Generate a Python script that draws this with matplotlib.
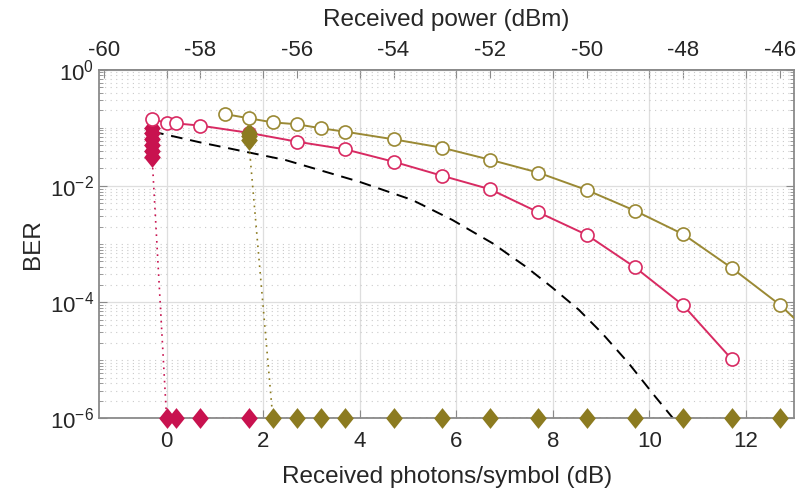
import matplotlib
matplotlib.use("Agg")
import matplotlib.pyplot as plt
from matplotlib.path import Path
import numpy as np

plt.rcParams['font.family'] = ['Liberation Sans', 'DejaVu Sans']
plt.rcParams['mathtext.fontset'] = 'custom'
plt.rcParams['mathtext.rm'] = 'Liberation Sans'
plt.rcParams['axes.unicode_minus'] = False

# ---- data (x in dBm, received power) ----
OFFSET = 58.7  # dB photons/symbol = dBm + OFFSET

red_circ_x = [-59, -58.7, -58.5, -58, -57, -56, -55, -54, -53, -52, -51, -50, -49, -48, -47]
red_circ_y = [0.140, 0.122, 0.119, 0.109, 0.082, 0.0577, 0.0426, 0.0261, 0.0150, 0.00875,
              0.00351, 0.00144, 3.97e-4, 8.8e-5, 1.05e-5]

olive_circ_x = [-57.5, -57, -56.5, -56, -55.5, -55, -54, -53, -52, -51, -50, -49, -48, -47, -46, -45]
olive_circ_y = [0.173, 0.146, 0.124, 0.115, 0.098, 0.0857, 0.0634, 0.0455, 0.0282, 0.0169,
                0.00850, 0.00374, 0.00147, 3.89e-4, 9.0e-5, 1.5e-5]

red_dia_x = [-59, -59, -59, -59, -59, -59, -58.7, -58.5, -58, -57]
red_dia_y = [0.100, 0.081, 0.064, 0.051, 0.040, 0.031, 1e-6, 1e-6, 1e-6, 1e-6]

olive_dia_x = [-57, -57, -57, -56.5, -56, -55.5, -55, -54, -53, -52, -51, -50, -49, -48, -47, -46]
olive_dia_y = [0.083, 0.071, 0.061] + [1e-6] * 13

theory_x = [-59.0, -58.0, -56.24, -54.71, -53.61, -52.78, -51.95, -51.26, -50.72, -50.16,
            -49.68, -49.13, -48.58, -48.24, -48.0]
theory_y = [0.0863, 0.056, 0.0279, 0.0118, 0.00572, 0.00259, 0.00103, 4.07e-4, 1.80e-4,
            7.34e-5, 2.91e-5, 8.85e-6, 2.36e-6, 1.07e-6, 6.1e-7]

bottom_ticks = [0, 2, 4, 6, 8, 10, 12]
top_ticks = [-60, -58, -56, -54, -52, -50, -48, -46]
y_major = [1e0, 1e-2, 1e-4, 1e-6]
y_labels = ['$\\mathregular{10^{0}}$', '$\\mathregular{10^{-2}}$',
            '$\\mathregular{10^{-4}}$', '$\\mathregular{10^{-6}}$']

RED = '#C8124F'
RED_L = '#D82A62'
OLV = '#8C7B20'
OLV_L = '#9A8934'
SPINE = '#8a8a8a'
TXT = '#262626'

def to_db(v):
    return [a + OFFSET for a in v]

fig = plt.figure(figsize=(8, 5), dpi=100)
ax = fig.add_axes([0.12375, 0.1634, 0.86913, 0.6972])
ax.set_yscale('log')
ax.set_xlim(-1.4, 13)
ax.set_ylim(1e-6, 1)

dia = Path([(0, 1), (0.8, 0), (0, -1), (-0.8, 0), (0, 1)],
           [Path.MOVETO, Path.LINETO, Path.LINETO, Path.LINETO, Path.CLOSEPOLY])

ax.plot(to_db(theory_x), theory_y, color='black', lw=1.4, ls=(0, (6, 4)), zorder=2)

# dotted connecting lines (below the spines), then diamond markers on top
ax.plot(to_db(red_dia_x), red_dia_y, color=RED, lw=1.2, ls=(0, (1, 3)), zorder=2.1)
ax.plot(to_db(red_dia_x), red_dia_y, ls='none', marker=dia, ms=15, mfc=RED, mec=RED,
        mew=0, clip_on=False, zorder=3)
ax.plot(to_db(red_circ_x), red_circ_y, color=RED_L, lw=1.4, marker='o', ms=9.4,
        mfc='white', mec=RED_L, mew=1.2, zorder=4)
ax.plot(to_db(olive_dia_x), olive_dia_y, color=OLV, lw=1.2, ls=(0, (1, 3)), zorder=2.1)
ax.plot(to_db(olive_dia_x), olive_dia_y, ls='none', marker=dia, ms=15, mfc=OLV, mec=OLV,
        mew=0, clip_on=False, zorder=5)
ax.plot(to_db(olive_circ_x), olive_circ_y, color=OLV_L, lw=1.4, marker='o', ms=9.4,
        mfc='white', mec=OLV_L, mew=1.2, zorder=6)

# ticks / grid
ax.set_xticks(bottom_ticks)
ax.set_yticks(y_major)
ax.set_yticklabels(y_labels)
minor = []
for e in range(-6, 0):
    for m in range(1, 10):
        v = m * 10.0 ** e
        if v not in y_major:
            minor.append(v)
ax.set_yticks(minor, minor=True)
ax.yaxis.set_minor_formatter(plt.NullFormatter())

ax.grid(True, which='major', axis='both', color='#dedede', lw=0.9, ls='-', zorder=0)
ax.grid(True, which='minor', axis='y', color='#cacaca', lw=0.8, ls=(0, (1, 4)), zorder=0)
ax.set_axisbelow(True)

ax.tick_params(axis='both', which='major', direction='in', length=6, width=0.8,
               color=SPINE, labelcolor=TXT, labelsize=16, top=True, right=True)
ax.tick_params(axis='y', which='minor', direction='in', length=3, width=0.6,
               color=SPINE, right=True)
ax.tick_params(axis='x', which='major', pad=9)
for s in ax.spines.values():
    s.set_color(SPINE)
    s.set_linewidth(1.3)

ax.set_xlabel('Received photons/symbol (dB)', fontsize=17.5, color=TXT, labelpad=10)
ax.set_ylabel('BER', fontsize=17.5, color=TXT, labelpad=4)

sec = ax.secondary_xaxis('top', functions=(lambda x: x - OFFSET, lambda x: x + OFFSET))
sec.set_xticks(top_ticks)
sec.tick_params(direction='in', length=6, width=0.8, color=SPINE, labelcolor=TXT,
                labelsize=16, pad=6)
sec.spines['top'].set_color(SPINE)
sec.spines['top'].set_linewidth(1.3)
sec.set_xlabel('Received power (dBm)', fontsize=17.5, color=TXT, labelpad=10)

fig.savefig('out.png', dpi=100)
